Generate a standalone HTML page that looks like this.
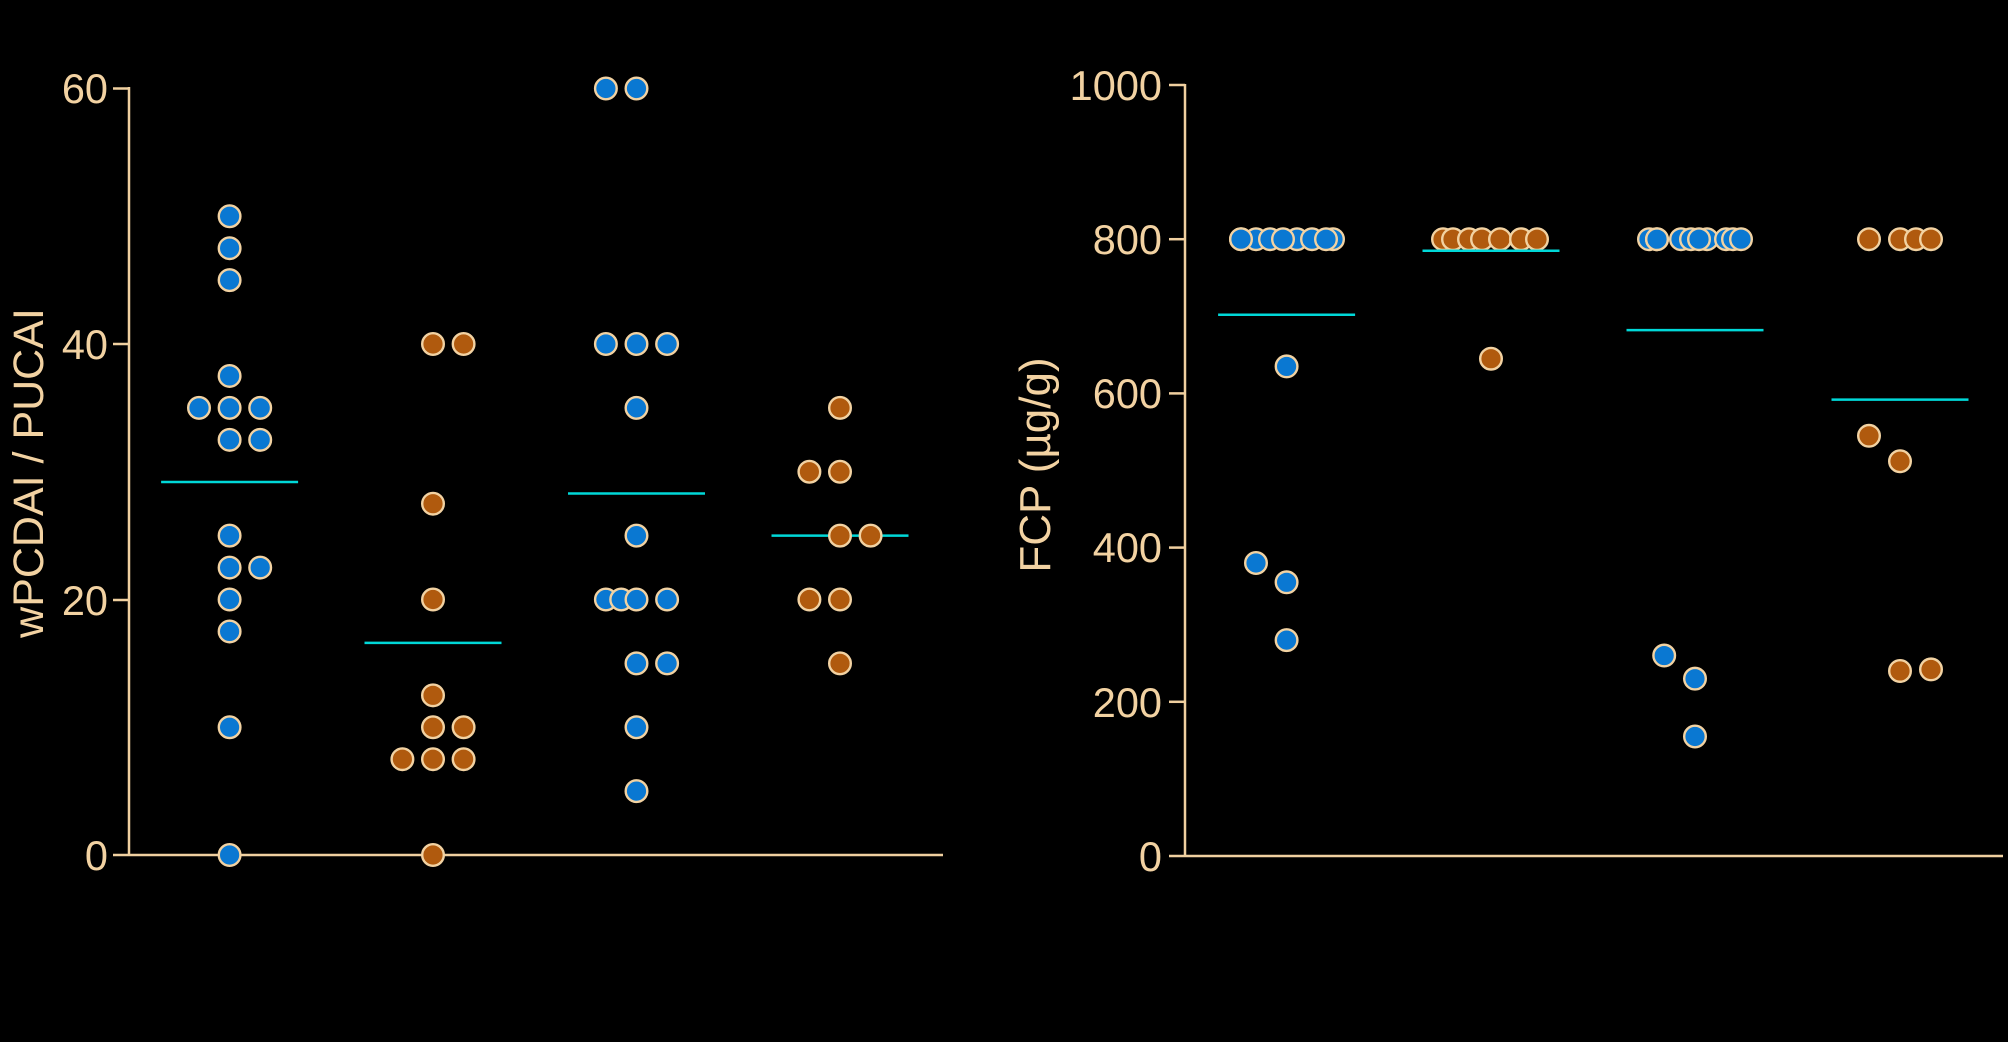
<!DOCTYPE html>
<html><head><meta charset="utf-8"><style>
html,body{margin:0;padding:0;background:#000;}
svg{display:block;}
text{font-family:"Liberation Sans",sans-serif;fill:#f2d2a2;}
</style></head><body>
<svg id="s" width="2008" height="1042" xmlns="http://www.w3.org/2000/svg">
<rect width="2008" height="1042" fill="#000"/>
<g stroke="#f0d0a0" stroke-width="2.5" fill="none">
<line x1="129" y1="87" x2="129" y2="856"/>
<line x1="113" y1="855" x2="943" y2="855"/>
<line x1="113" y1="88.5" x2="129" y2="88.5"/>
<line x1="113" y1="344" x2="129" y2="344"/>
<line x1="113" y1="600" x2="129" y2="600"/>
<line x1="1185" y1="84" x2="1185" y2="857"/>
<line x1="1169" y1="856" x2="2003" y2="856"/>
<line x1="1169" y1="85" x2="1185" y2="85"/>
<line x1="1169" y1="239.2" x2="1185" y2="239.2"/>
<line x1="1169" y1="393.4" x2="1185" y2="393.4"/>
<line x1="1169" y1="547.6" x2="1185" y2="547.6"/>
<line x1="1169" y1="701.8" x2="1185" y2="701.8"/>
</g>
<g font-size="41.5" text-anchor="end">
<text x="108" y="103">60</text><text x="108" y="359">40</text><text x="108" y="615">20</text><text x="108" y="870">0</text>
<text x="1162" y="100">1000</text><text x="1162" y="254">800</text><text x="1162" y="408">600</text><text x="1162" y="562">400</text><text x="1162" y="717">200</text><text x="1162" y="871">0</text>
</g>
<text font-size="43" text-anchor="middle" transform="translate(43,473) rotate(-90)">wPCDAI / PUCAI</text>
<text font-size="44" text-anchor="middle" transform="translate(1050,465) rotate(-90)">FCP (µg/g)</text>
<g id="pts"></g>
</svg>
<script>
var B="#0a78d2",O="#b05a0e",C="#00d8d8";
var g=document.getElementById('pts'),h='';
function dot(x,y,c){h+='<circle cx="'+x+'" cy="'+y+'" r="10.8" fill="'+c+'" stroke="#f2d2a2" stroke-width="2.4"/>';}
function mean(cx,y){h+='<line x1="'+(cx-68.5)+'" y1="'+y+'" x2="'+(cx+68.5)+'" y2="'+y+'" stroke="'+C+'" stroke-width="2.5"/>';}
function ly(v){return 855-v*(766.5/60);}
function ry(v){return 856-v*0.771;}
var o=30.6;
var L=[[229.6,B,[[50,[0]],[47.5,[0]],[45,[0]],[37.5,[0]],[35,[-1,0,1]],[32.5,[0,1]],[25,[0]],[22.5,[0,1]],[20,[0]],[17.5,[0]],[10,[0]],[0,[0]]],29.2],
[433,O,[[40,[0,1]],[27.5,[0]],[20,[0]],[12.5,[0]],[10,[0,1]],[7.5,[-1,0,1]],[0,[0]]],16.6],
[636.5,B,[[60,[-1,0]],[40,[-1,0,1]],[35,[0]],[25,[0]],[20,[-1,-0.5,0,1]],[15,[0,1]],[10,[0]],[5,[0]]],28.3],
[840,O,[[35,[0]],[30,[-1,0]],[25,[0,1]],[20,[-1,0]],[15,[0]]],25.0]];
L.forEach(function(c){mean(c[0],ly(c[3]));c[2].forEach(function(r){r[1].forEach(function(k){dot(c[0]+k*o,ly(r[0]),c[1]);});});});
var y8=ry(800);
[1241,1256,1270,1297,1312,1333,1241,1283,1326].forEach(function(x){dot(x,y8,B);});
[1443,1453,1469,1482,1500,1521,1537].forEach(function(x){dot(x,y8,O);});
[1649,1657,1681,1691,1707,1726,1733,1657,1699,1741].forEach(function(x){dot(x,y8,B);});
[1869,1900,1916,1931].forEach(function(x){dot(x,y8,O);});
mean(1286.6,ry(702));mean(1491,ry(785));mean(1695,ry(682));mean(1900,ry(592));
dot(1286.6,ry(635),B);dot(1256,ry(380),B);dot(1286.6,ry(355),B);dot(1286.6,ry(280),B);
dot(1491,ry(645),O);
dot(1664.2,ry(260),B);dot(1695,ry(230),B);dot(1695,ry(155),B);
dot(1869,ry(545),O);dot(1900,ry(512),O);dot(1900,ry(240),O);dot(1931,ry(242),O);
g.innerHTML=h;
</script>
</body></html>
